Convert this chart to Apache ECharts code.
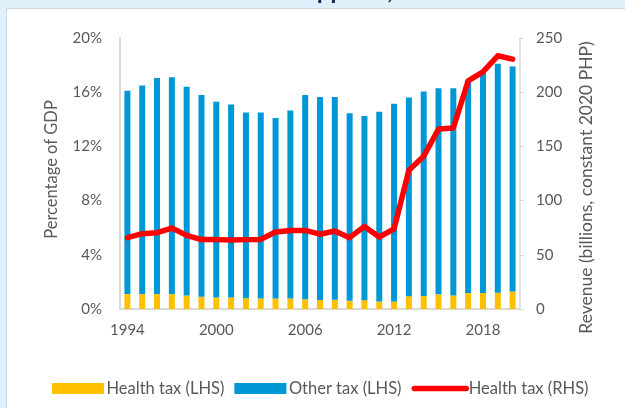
<!DOCTYPE html>
<html lang="en">
<head>
    <meta charset="UTF-8">
    <script src="https://cdn.jsdelivr.net/npm/echarts@6/dist/echarts.min.js"></script>
    <title>Health tax revenue</title>
    <style>
        html, body { margin: 0; padding: 0; background: #dff0fb; }
    </style>
</head>
<body>
    <div id="main" style="width: 625px;height:408px;"></div>
</body>
<script type="text/javascript">
    var years = ['1994','1995','1996','1997','1998','1999','2000','2001','2002','2003','2004','2005','2006','2007',
                 '2008','2009','2010','2011','2012','2013','2014','2015','2016','2017','2018','2019','2020'];
    // % of GDP
    var healthTaxPct = [1.1,1.1,1.1,1.1,1.0,0.9,0.85,0.85,0.8,0.77,0.78,0.77,0.72,0.67,
                        0.68,0.6,0.65,0.55,0.56,0.95,0.96,1.08,1.0,1.18,1.18,1.2,1.3];
    var otherTaxPct = [15.0,15.4,15.95,16.0,15.4,14.9,14.45,14.25,13.7,13.73,13.32,13.88,15.08,14.98,
                       14.97,13.85,13.6,14.0,14.59,14.65,15.09,15.22,15.3,15.72,16.22,16.9,16.6];
    // billions, constant 2020 PHP
    var healthTaxRev = [65.8,69.5,70.4,74.7,67.9,64,64,63.6,64,64.2,71,72.5,72.5,69,
                        72,65.8,76.2,66.4,74,128,141,166,167,210.5,218.8,233.6,230.5];

    var txt = '#595959';
    var font = 'Lato';
    var chart = echarts.init(document.getElementById('main'));
    chart.setOption({
        animation: false,
        backgroundColor: '#dff0fb',
        textStyle: { fontFamily: font },
        graphic: [
            {
                type: 'text', left: -5, top: -21, z: 0,
                style: {
                    text: 'Health tax revenue in the Philippines, 1994\u20132020',
                    font: 'bold 24px Lato', fill: '#0d2b4e'
                }
            },
            {
                type: 'rect', z: -1, silent: true,
                shape: { x: 6.5, y: 8.5, width: 640, height: 420 },
                style: { fill: '#ffffff', stroke: '#cfd6dc', lineWidth: 1 }
            }
        ],
        grid: { left: 120, right: 105, top: 38, bottom: 99 },
        legend: {
            left: 47, top: 375,
            itemWidth: 52, itemHeight: 11, itemGap: 10,
            textStyle: { color: txt, fontSize: 16.5, fontFamily: font, padding: [0, 0, 0, -2.5] },
            data: [
                { name: 'Health tax (LHS)', icon: 'rect' },
                { name: 'Other tax (LHS)', icon: 'rect' },
                { name: 'Health tax (RHS)', itemStyle: { opacity: 0 }, lineStyle: { width: 5.5, cap: 'round' } }
            ]
        },
        xAxis: {
            type: 'category',
            data: years,
            axisLine: { lineStyle: { color: '#d9d9d9', width: 2 } },
            axisTick: { show: false },
            axisLabel: { interval: 5, color: txt, fontSize: 15, margin: 14 }
        },
        yAxis: [
            {
                type: 'value', min: 0, max: 20, interval: 4,
                name: 'Percentage of GDP', nameLocation: 'middle', nameGap: 60,
                nameTextStyle: { color: txt, fontSize: 16.5, padding: [0, 0, 0, 8] },
                splitLine: { show: false },
                axisLine: { show: true, lineStyle: { color: '#d9d9d9', width: 2 } },
                axisTick: { show: false },
                axisLabel: { formatter: '{value}%', color: txt, fontSize: 15, margin: 18 }
            },
            {
                type: 'value', min: 0, max: 250, interval: 50,
                name: 'Revenue (billions, constant 2020 PHP)', nameLocation: 'middle', nameGap: 57,
                nameRotate: 90,
                nameTextStyle: { color: txt, fontSize: 17.5, padding: [0, 28, 0, 0] },
                splitLine: { show: false },
                axisLine: { show: true, lineStyle: { color: '#d9d9d9', width: 1.5 } },
                axisTick: { show: true, length: 4, lineStyle: { color: '#d9d9d9' } },
                axisLabel: { color: txt, fontSize: 15, margin: 16 }
            }
        ],
        series: [
            {
                name: 'Health tax (LHS)', type: 'bar', stack: 'tax',
                data: healthTaxPct, barWidth: 6,
                itemStyle: { color: '#ffc000' }
            },
            {
                name: 'Other tax (LHS)', type: 'bar', stack: 'tax',
                data: otherTaxPct, barWidth: 6,
                itemStyle: { color: '#0097d6' }
            },
            {
                name: 'Health tax (RHS)', type: 'line', yAxisIndex: 1,
                data: healthTaxRev, symbol: 'none', z: 5,
                itemStyle: { color: '#ff0000' },
                lineStyle: { color: '#ff0000', width: 5.5, cap: 'round', join: 'round' }
            }
        ]
    });
</script>
</html>
